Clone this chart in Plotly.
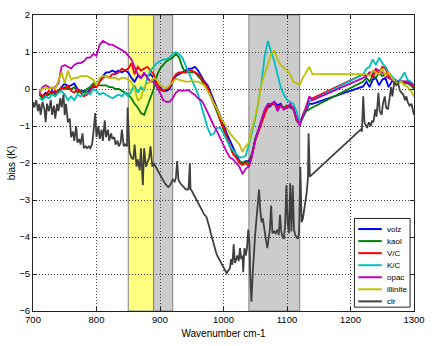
import plotly.graph_objects as go

# ---------------- data ----------------
wn_a = list(range(710, 1141, 5))          # 710 .. 1140
wn_b = list(range(1220, 1301, 5))         # 1220 .. 1300
wn = wn_a + wn_b

volz = [
    -0.15, -0.2, -0.1, -0.15, -0.05, -0.1, -0.05, 0.05, 0.15, 0.05,
    0.1, 0.15, 0.0, -0.05, -0.05, -0.1, 0.0, 0.05, 0.05, 0.2,
    0.35, 0.45, 0.45, 0.5, 0.45, 0.5, 0.45, 0.5, 0.45, 0.3,
    0.2, 0.35, 0.3, 0.4, 0.35, 0.4, 0.3, 0.15, 0.05, -0.05,
    -0.05, 0.0, 0.2, 0.35, 0.4, 0.45, 0.5, 0.55, 0.55, 0.6,
    0.5, 0.35, 0.2, 0.1, -0.1, -0.3, -0.5, -0.75, -0.95, -1.2,
    -1.4, -1.6, -1.8, -1.95, -2.0, -1.95, -1.95, -1.75, -1.35, -1.1,
    -0.85, -0.6, -0.5, -0.45, -0.35, -0.45, -0.4, -0.55, -0.5, -0.45,
    -0.5, -0.8, -0.95, -0.75, -0.55, -0.4, -0.4,
    0.07, 0.2, 0.05, 0.25, 0.3, 0.1, 0.25, 0.3, 0.05, 0.2, 0.25, 0.2, 0.2, 0.2, 0.2, 0.15, 0.05,
]
kaol = [
    -0.15, -0.25, -0.2, -0.15, -0.1, -0.15, -0.05, 0.0, 0.05, 0.0,
    0.0, 0.05, -0.1, -0.05, -0.1, 0.0, 0.05, 0.15, 0.1, 0.1,
    0.1, 0.1, 0.05, 0.05, 0.0, 0.0, -0.05, -0.1, -0.15, -0.25,
    -0.4, -0.5, -0.65, -0.7, -0.45, -0.2, 0.0, 0.35, 0.55, 0.65,
    0.75, 0.8, 0.85, 0.95, 0.85, 0.6, 0.45, 0.45, 0.45, 0.45,
    0.35, 0.25, 0.1, 0.0, -0.2, -0.4, -0.6, -0.85, -1.1, -1.35,
    -1.55, -1.75, -1.85, -1.95, -2.0, -1.95, -2.0, -1.75, -1.35, -1.1,
    -0.85, -0.6, -0.45, -0.4, -0.4, -0.5, -0.45, -0.5, -0.45, -0.5,
    -0.55, -0.85, -0.9, -0.75, -0.6, -0.55, -0.5,
    0.2, 0.3, 0.2, 0.35, 0.3, 0.45, 0.35, 0.4, 0.3, 0.25, 0.2, 0.2, 0.2, 0.15, 0.15, 0.1, 0.0,
]
vc = [
    -0.1, -0.2, -0.15, -0.05, -0.1, -0.05, -0.1, 0.05, 0.0, 0.1,
    -0.05, -0.1, 0.0, -0.1, -0.2, -0.15, -0.05, 0.1, 0.05, 0.2,
    0.3, 0.35, 0.3, 0.4, 0.4, 0.45, 0.55, 0.5, 0.55, 0.7,
    0.4, 0.6, 0.5, 0.55, 0.6, 0.5, 0.4, 0.15, 0.0, -0.05,
    0.0, 0.05, 0.25, 0.4, 0.45, 0.45, 0.45, 0.5, 0.5, 0.45,
    0.4, 0.3, 0.15, 0.05, -0.2, -0.4, -0.55, -0.85, -1.05, -1.3,
    -1.55, -1.75, -1.85, -2.0, -2.05, -2.0, -2.1, -1.8, -1.4, -1.15,
    -0.9, -0.65, -0.45, -0.4, -0.4, -0.5, -0.45, -0.55, -0.45, -0.5,
    -0.5, -0.85, -0.95, -0.7, -0.5, -0.25, -0.25,
    0.4, 0.35, 0.45, 0.3, 0.5, 0.4, 0.6, 0.55, 0.35, 0.3, 0.25, 0.2, 0.2, 0.2, 0.2, 0.15, 0.05,
]
kc = [
    -0.25, -0.3, -0.2, -0.25, -0.15, -0.2, -0.1, -0.05, -0.15, -0.3,
    -0.2, -0.3, -0.15, -0.2, -0.15, -0.1, -0.15, 0.0, -0.05, -0.15,
    -0.1, -0.15, -0.2, -0.25, -0.2, -0.15, -0.2, -0.1, -0.2, -0.05,
    0.1, -0.1, 0.05, -0.05, 0.3, 0.5, 0.6, 0.7, 0.75, 0.8,
    0.8, 0.85, 0.95, 1.0, 0.95, 0.85, 0.65, 0.45, 0.25, 0.05,
    -0.15, -0.45, -0.75, -1.05, -1.25, -1.2, -1.05, -1.05, -1.2, -1.4,
    -1.55, -1.65, -1.75, -1.85, -1.85, -1.8, -1.5, -1.15, -0.8, -0.35,
    0.2, 0.9, 1.3, 1.0, 0.75, 0.4, 0.05, -0.15, -0.3, -0.35,
    -0.4, -0.6, -0.95, -0.7, -0.5, -0.35, -0.3,
    0.4, 0.55, 0.6, 0.8, 0.65, 0.85, 0.7, 0.6, 0.45, 0.35, 0.25, 0.2, 0.3, 0.45, 0.25, 0.2, 0.1,
]
opac = [
    -0.1, 0.05, 0.1, 0.05, 0.0, 0.05, 0.15, 0.6, 0.65, 0.6,
    0.55, 0.65, 0.7, 0.7, 0.75, 0.85, 0.85, 0.95, 0.9, 1.2,
    1.3, 1.25, 1.2, 1.2, 1.15, 1.1, 1.05, 1.0, 0.9, 0.8,
    0.6, 0.4, 0.3, 0.45, 0.3, 0.2, 0.2, 0.05, -0.1, -0.3,
    -0.35, -0.35, -0.25, -0.1, -0.03, -0.05, -0.05, -0.03, -0.1, -0.16,
    -0.25, -0.3, -0.45, -0.65, -0.8, -1.0, -1.15, -1.35, -1.55, -1.7,
    -1.85, -1.9, -2.0, -2.1, -2.3, -2.15, -2.1, -1.8, -1.4, -1.1,
    -0.8, -0.55, -0.4, -0.4, -0.35, -0.6, -0.45, -0.55, -0.5, -0.4,
    -0.55, -0.8, -1.0, -0.7, -0.55, -0.2, -0.3,
    0.3, 0.35, 0.45, 0.4, 0.55, 0.5, 0.45, 0.35, 0.3, 0.25, 0.2, 0.2, 0.2, 0.2, 0.2, 0.15, 0.1,
]
illinite = [
    -0.05, 0.0, 0.05, 0.0, 0.05, 0.0, 0.2, 0.45, 0.15, 0.5,
    0.25, 0.3, 0.3, 0.35, 0.35, 0.35, 0.3, 0.25, 0.1, 0.3,
    0.35, 0.35, 0.3, 0.3, 0.3, 0.25, 0.3, 0.3, 0.25, 0.2,
    0.0, -0.3, -0.25, 0.05, 0.15, 0.2, 0.3, 0.25, 0.1, 0.05,
    0.02, 0.1, 0.2, 0.28, 0.25, 0.22, 0.2, 0.2, 0.22, 0.2,
    0.2, 0.15, 0.1, -0.05, -0.2, -0.4, -0.55, -0.75, -0.9, -1.05,
    -1.2, -1.3, -1.4, -1.5, -1.7, -1.55, -1.45, -1.05, -0.75, -0.35,
    0.15, 0.4, 0.7, 0.95, 1.05, 0.8, 0.65, 0.58, 0.5, 0.4,
    0.2, 0.15, 0.12, 0.3, 0.45, 0.6, 0.4,
    0.4, 0.4, 0.35, 0.5, 0.45, 0.4, 0.55, 0.35, 0.45, 0.3, 0.2, 0.15, 0.2, 0.1, 0.05, -0.05, -0.2,
]

clr_wn = [
    700, 702, 705, 708, 710, 712, 715, 718, 720, 722, 725, 728, 730, 733, 735, 738, 740, 743, 745, 748,
    750, 752, 755, 758, 760, 763, 765, 768, 770, 773, 775, 778, 780, 783, 785, 788, 790, 793, 795, 798,
    800, 803, 805, 808, 810, 813, 815, 818, 820, 823, 825, 828, 830, 833, 835, 838, 840, 843, 845, 848,
    849, 852, 855, 858, 860, 863, 865, 868, 870, 873, 875, 878, 880, 883, 885, 888, 890, 893, 896, 900,
    903, 906, 910, 913, 916, 920, 923, 925, 927, 929, 932, 935, 938, 940, 943, 945, 947, 948, 950, 953,
    955, 958, 960, 963, 965, 968, 970, 973, 975, 978, 980, 983, 985, 988, 990, 993, 995, 998, 1000, 1003,
    1005, 1008, 1010, 1012, 1014, 1016, 1018, 1020, 1022, 1024, 1026, 1028, 1030, 1031, 1033, 1035, 1037, 1039, 1041, 1042,
    1044, 1046, 1048, 1050, 1052, 1055, 1056, 1058, 1060, 1062, 1065, 1067, 1069, 1071, 1073, 1075, 1077, 1080, 1082, 1085,
    1087, 1089, 1091, 1093, 1095, 1097, 1099, 1101, 1103, 1105, 1107, 1109, 1111, 1113, 1115, 1117, 1119, 1121, 1123, 1125,
    1128, 1131, 1133, 1134, 1136, 1216, 1218, 1220, 1222, 1224, 1226, 1229, 1232, 1234, 1236, 1239, 1241, 1244, 1246, 1249,
    1251, 1254, 1256, 1259, 1261, 1264, 1266, 1269, 1272, 1275, 1278, 1280, 1283, 1286, 1288, 1290, 1293, 1296, 1298, 1300,
]
clr = [
    -0.35, -0.5, -0.3, -0.6, -0.4, -0.7, -0.35, -0.55, -0.9, -0.4, -0.6, -0.3, -0.7, -0.45, -0.8, -0.4, -0.6, -0.25, -0.5, -0.15,
    -0.7, -0.4, -0.9, -0.8, -1.3, -1.15, -1.4, -1.0, -1.45, -1.35, -1.5, -1.2, -1.6, -1.55, -1.6, -1.55, -1.6, -1.5, -1.2, -0.65,
    -1.3, -1.0, -1.35, -1.1, -1.4, -0.85, -1.3, -1.1, -1.4, -1.2, -1.35, -1.3, -1.5, -1.4, -1.55, -1.45, -1.1, -1.55, -1.5, -1.55,
    -0.5, -1.7, -1.85, -1.9, -1.5, -2.1, -1.9, -2.2, -1.6, -2.6, -1.6, -2.1, -2.0, -1.85, -1.55, -2.1, -2.0, -2.1, -2.2, -2.3,
    -2.4, -2.5, -2.6, -2.65, -2.6, -2.45, -2.5, -2.4, -1.95, -2.45, -2.55, -2.6, -2.65, -2.7, -2.72, -2.7, -2.0, -2.7, -2.75, -2.85,
    -2.9, -3.0, -3.1, -3.2, -3.25, -3.35, -3.4, -3.45, -3.55, -3.75, -3.9, -4.1, -4.25, -4.4, -4.5, -4.6, -4.65, -4.75, -4.85, -4.95,
    -4.98, -4.9, -4.85, -4.6, -4.75, -4.2, -4.7, -4.6, -4.5, -4.65, -4.3, -4.6, -4.5, -4.95, -4.3, -4.5, -4.3, -3.8, -4.2, -5.0,
    -5.75, -5.0, -4.3, -3.9, -3.5, -2.9, -2.72, -3.3, -3.6, -3.5, -3.95, -4.1, -4.3, -4.0, -3.8, -3.15, -3.9, -3.85, -3.9, -3.8,
    -3.95, -3.4, -3.85, -4.0, -4.05, -3.7, -2.6, -3.6, -3.9, -2.55, -3.85, -2.6, -3.8, -3.95, -4.0, -4.05, -3.9, -2.1, -3.6, -3.5,
    -3.15, -2.8, -2.4, -1.2, -2.37, -1.1, -1.15, -0.2, -0.9, -1.0, -1.05, -0.9, -1.0, -0.85, -0.9, -0.55, -0.75, -0.1, -0.6, -0.7,
    -0.4, -0.2, -0.5, -0.55, -0.3, 0.05, -0.2, 0.2, 0.1, 0.15, -0.05, -0.1, -0.15, -0.3, -0.2, -0.35, -0.45, -0.4, -0.55, -0.7,
]

series_names = ["volz", "kaol", "V/C", "K/C", "opac", "illinite", "clr"]
series_colors = ["#0000FF", "#008000", "#FF0000", "#00BFBF", "#BF00BF", "#BFBF00", "#404040"]
series_x = [wn, wn, wn, wn, wn, wn, clr_wn]
series_y = [volz, kaol, vc, kc, opac, illinite, clr]

bands = [(850, 890, "#FFFF80"), (890, 920, "#CCCCCC"), (1040, 1120, "#CCCCCC")]

x_ticks = [700, 800, 900, 1000, 1100, 1200, 1300]
y_ticks = [2, 1, 0, -1, -2, -3, -4, -5, -6]

# ---------------- figure ----------------
W, H = 434, 346
ML, MR, MT, MB = 33, 11, 9, 30
PW, PH = W - ML - MR, H - MT - MB

def px(xp):
    return (xp - ML) / PW

def py(yp):
    return (H - MB - yp) / PH

FONT = "Liberation Sans, Arial, Helvetica, sans-serif"

fig = go.Figure()
for name, col, xs, ys in zip(series_names, series_colors, series_x, series_y):
    fig.add_trace(go.Scatter(x=xs, y=ys, mode="lines", name=name,
                             line=dict(color=col, width=1.8), showlegend=False))

shapes = []
for x0, x1, c in bands:
    shapes.append(dict(type="rect", xref="x", yref="y", x0=x0, x1=x1, y0=-6, y1=2,
                       fillcolor=c, line=dict(color="#808080", width=1), layer="below"))

# legend box
lx0, lx1, ly0, ly1 = 362, 419, 220, 312
shapes.append(dict(type="rect", xref="paper", yref="paper", x0=px(lx0), x1=px(lx1),
                   y0=py(ly1), y1=py(ly0), fillcolor="white",
                   line=dict(color="#222222", width=1), layer="above"))
annotations = []
for i, (name, col) in enumerate(zip(series_names, series_colors)):
    yy = 231 + i * 12.5
    shapes.append(dict(type="line", xref="paper", yref="paper", x0=px(366), x1=px(390),
                       y0=py(yy), y1=py(yy), line=dict(color=col, width=2), layer="above"))
    annotations.append(dict(xref="paper", yref="paper", x=px(393), y=py(yy), text=name,
                            showarrow=False, xanchor="left", yanchor="middle",
                            font=dict(family=FONT, size=8, color="black")))

fig.update_layout(
    width=W, height=H,
    margin=dict(l=ML, r=MR, t=MT, b=MB),
    paper_bgcolor="white", plot_bgcolor="white",
    shapes=shapes, annotations=annotations,
    showlegend=False,
    font=dict(family=FONT, size=10, color="black"),
)
fig.update_xaxes(range=[700, 1300], tickvals=x_ticks, ticks="inside", ticklen=4,
                 tickcolor="#222", showline=True, linecolor="#222", linewidth=1, mirror="ticks",
                 showgrid=True, gridcolor="#444", griddash="1px,2px", gridwidth=1, zeroline=False,
                 tickfont=dict(size=9.5),
                 title=dict(text="Wavenumber cm-1", font=dict(size=10), standoff=5))
fig.update_yaxes(range=[-6, 2], tickvals=y_ticks, ticks="inside", ticklen=4,
                 tickcolor="#222", showline=True, linecolor="#222", linewidth=1, mirror="ticks",
                 showgrid=True, gridcolor="#444", griddash="1px,2px", gridwidth=1, zeroline=False,
                 tickfont=dict(size=9.5),
                 title=dict(text="bias (K)", font=dict(size=10), standoff=1))

fig.write_html("out.html")
